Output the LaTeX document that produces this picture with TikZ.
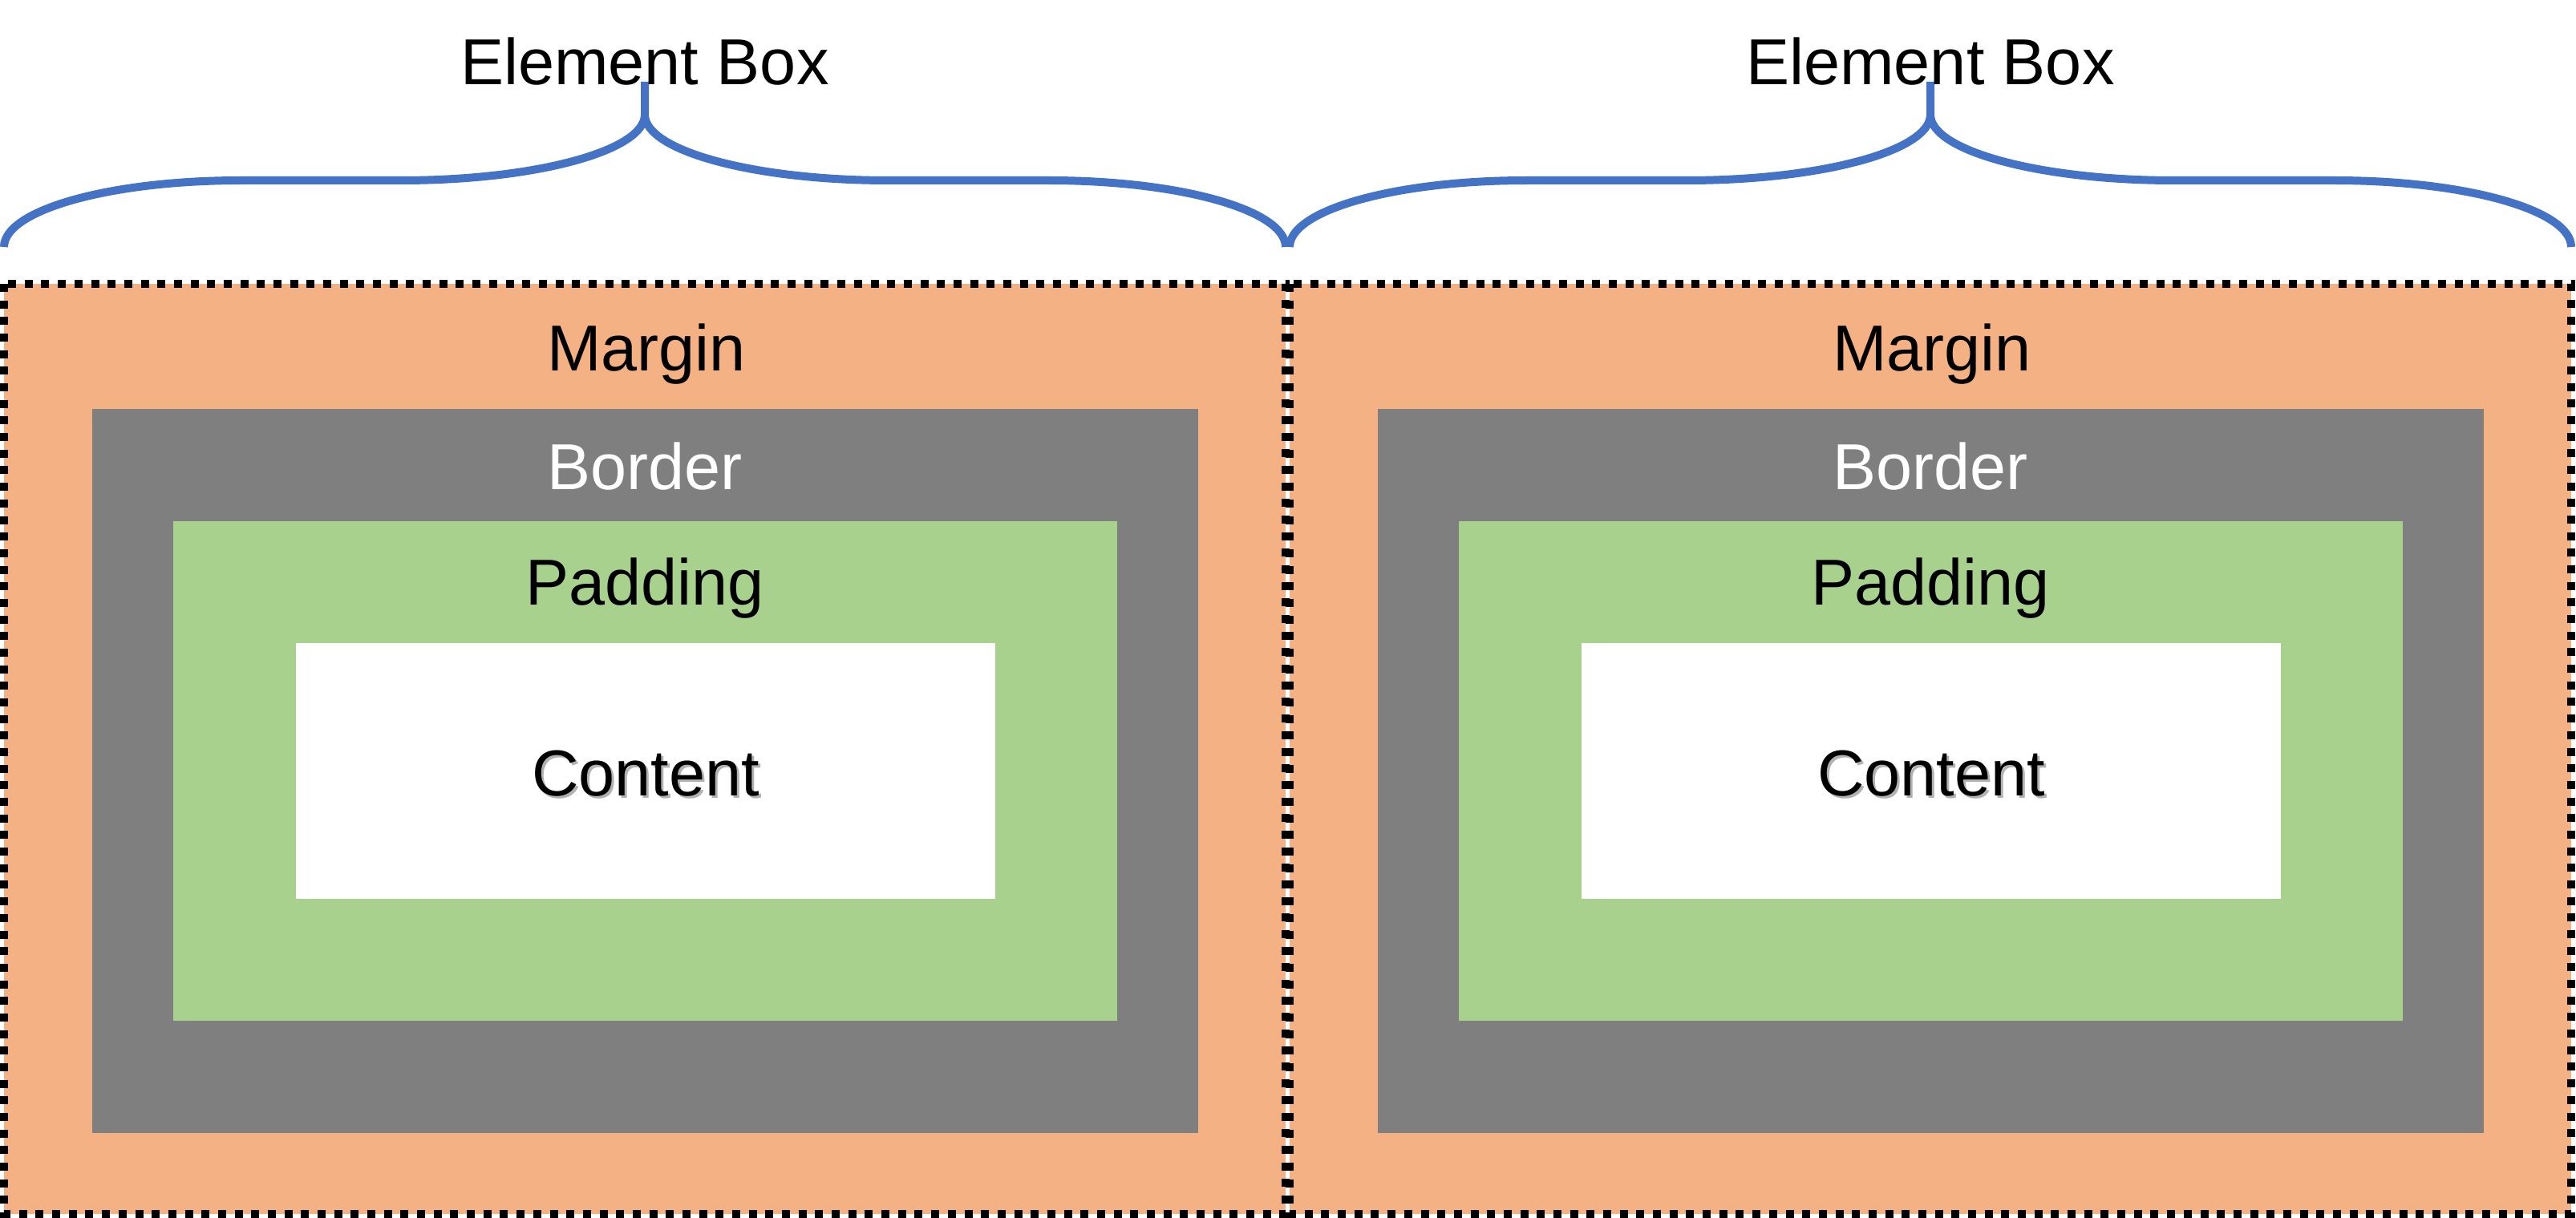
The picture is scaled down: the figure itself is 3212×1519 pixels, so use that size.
\documentclass[tikz,border=0pt]{standalone}
\usepackage{fontspec}
\setmainfont{Liberation Sans}
\definecolor{marginc}{HTML}{F4B183}
\definecolor{borderc}{HTML}{7F7F7F}
\definecolor{paddingc}{HTML}{A9D18E}
\definecolor{bracec}{HTML}{4472C4}
\tikzset{
  lbl/.style={anchor=base, inner sep=0pt, font=\fontsize{20.25pt}{24pt}\selectfont},
  marginbox/.style={fill=marginc, draw=black, line width=2.5pt, dash pattern=on 2.5pt off 2.67pt},
  borderbox/.style={fill=borderc},
  paddingbox/.style={fill=paddingc},
  contentbox/.style={fill=white},
  bracestroke/.style={draw=bracec, line width=2.5pt, line cap=butt, line join=round},
}
\begin{document}
\begin{tikzpicture}[x=0.25pt, y=-0.25pt]
\useasboundingbox[fill=white] (0,0) rectangle (3212,1519);
\foreach \ox/\n in {0/L,1603/R}{
  % boxes
  \path[marginbox] (\ox+5,354) rectangle (\ox+1603,1514);
  \path[borderbox] (\ox+115,510) rectangle (\ox+1494,1413);
  \path[paddingbox] (\ox+216,650) rectangle (\ox+1393,1273);
  \path[contentbox] (\ox+369,802) rectangle (\ox+1241,1121);
  % brace
  \draw[bracestroke] (\ox+5,308) .. controls (\ox+5,262) and (\ox+137,225) .. (\ox+300,225)
     -- (\ox+500,225) .. controls (\ox+668,225) and (\ox+804,188) .. (\ox+804,143)
     -- (\ox+804,102);
  \draw[bracestroke] (\ox+804,143) .. controls (\ox+804,188) and (\ox+940,225) .. (\ox+1108,225)
     -- (\ox+1308,225) .. controls (\ox+1471,225) and (\ox+1603,262) .. (\ox+1603,308);
  % labels
  \node[lbl] (elem\n) at (\ox+804,106) {Element Box};
  \node[lbl] (margin\n) at (\ox+806,462) {Margin};
  \node[lbl, text=white] (border\n) at (\ox+804,610) {Border};
  \node[lbl] (padding\n) at (\ox+804,754) {Padding};
  \node[lbl, text=black!30] (contentshadow\n) at (\ox+808,995) {Content};
  \node[lbl] (content\n) at (\ox+805,992) {Content};
}
\end{tikzpicture}
\end{document}
